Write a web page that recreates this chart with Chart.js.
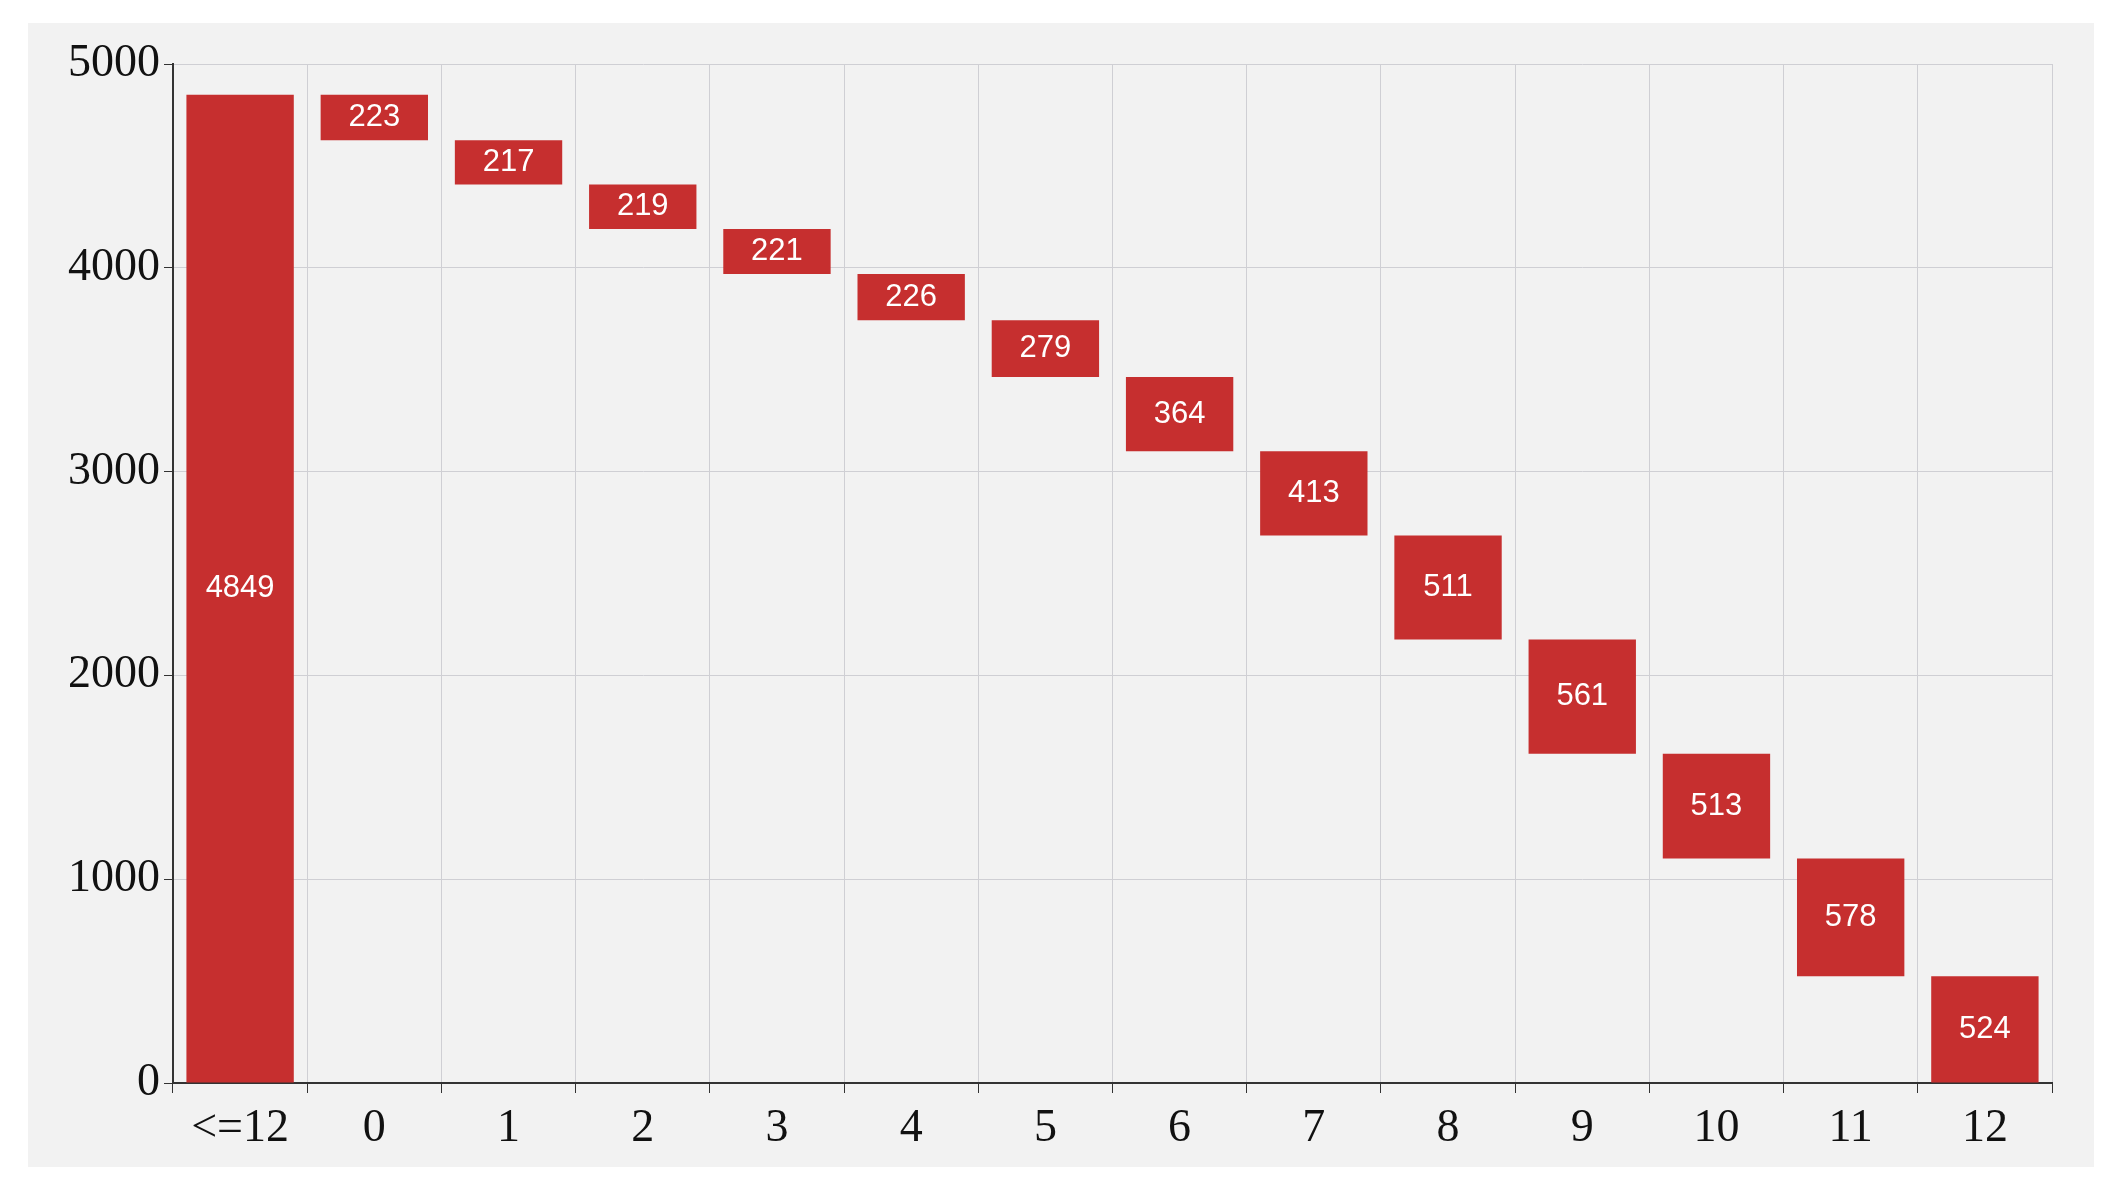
<!DOCTYPE html>
<html>
<head>
<meta charset="utf-8">
<script src="https://cdn.jsdelivr.net/npm/chart.js@4"></script>
<style>
  html, body { margin: 0; background: #fff; }
  #panel { position: absolute; left: 28px; top: 23px; width: 2066px; height: 1144px; background: #f2f2f2; }
</style>
</head>
<body>
<div id="panel"><canvas id="c" width="2066" height="1144"></canvas></div>
<script>
const categories = ['<=12', '0', '1', '2', '3', '4', '5', '6', '7', '8', '9', '10', '11', '12'];
const values = [4849, 223, 217, 219, 221, 226, 279, 364, 413, 511, 561, 513, 578, 524];
const yTicks = [0, 1000, 2000, 3000, 4000, 5000];

// first bar starts at zero, the rest step down from the running top
let level = 0;
const ranges = values.map((v, i) => {
  if (i === 0) { level = v; return [0, v]; }
  const r = [level - v, level];
  level -= v;
  return r;
});

const barLabels = {
  id: 'barLabels',
  afterDatasetsDraw(chart) {
    const ctx = chart.ctx;
    ctx.save();
    ctx.fillStyle = '#fff';
    ctx.font = '31px "Liberation Sans", Arial, sans-serif';
    ctx.textAlign = 'center';
    ctx.textBaseline = 'middle';
    chart.getDatasetMeta(0).data.forEach((bar, i) => {
      ctx.fillText(String(values[i]), bar.x, (bar.y + bar.base) / 2);
    });
    ctx.restore();
  }
};

const serif = '"Liberation Serif", "Times New Roman", serif';

new Chart(document.getElementById('c'), {
  type: 'bar',
  data: {
    labels: categories,
    datasets: [{
      data: ranges,
      backgroundColor: '#c62f2f',
      borderSkipped: false,
      barPercentage: 0.8,
      categoryPercentage: 1
    }]
  },
  options: {
    responsive: false,
    animation: false,
    layout: { padding: { top: 41, right: 42, bottom: 0, left: 0 } },
    plugins: { legend: { display: false }, tooltip: { enabled: false } },
    scales: {
      x: {
        offset: true,
        grid: { offset: true, color: '#cfcfd4', tickColor: '#333', tickLength: 10 },
        border: { color: '#333', width: 2 },
        ticks: { color: '#111', padding: 8, font: { family: serif, size: 46 } },
        afterFit(scale) { scale.height = 84; }
      },
      y: {
        min: 0,
        max: 5000,
        afterBuildTicks(scale) { scale.ticks = yTicks.map(v => ({ value: v })); },
        grid: { color: '#cfcfd4', tickColor: '#333', tickLength: 9 },
        border: { color: '#333', width: 2 },
        ticks: { color: '#111', padding: 4, callback: (v) => String(v), font: { family: serif, size: 46 } },
        afterFit(scale) { scale.width = 145; }
      }
    }
  },
  plugins: [barLabels]
});
</script>
</body>
</html>
